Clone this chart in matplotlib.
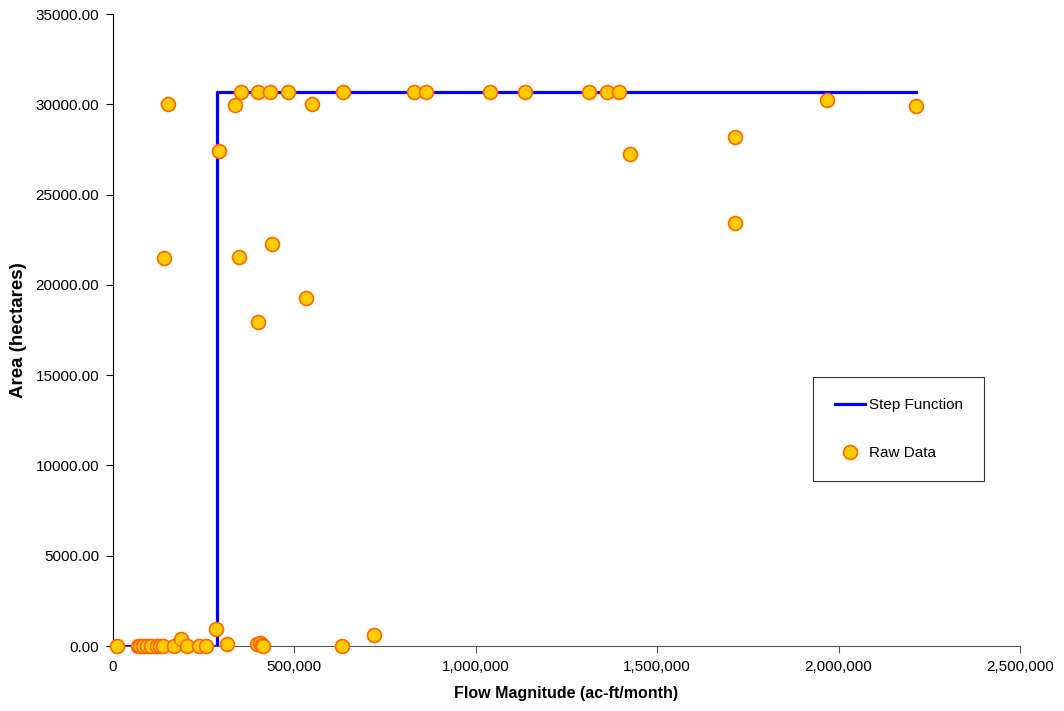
import matplotlib
matplotlib.use("Agg")
import matplotlib.pyplot as plt
from matplotlib.ticker import FuncFormatter, MultipleLocator

plt.rcParams['font.family'] = ['Liberation Sans', 'DejaVu Sans']

# Step function
step_x = [10000, 286000, 286000, 2213000]
step_y = [0, 0, 30660, 30660]

# Raw data (flow ac-ft/month, area hectares)
raw_x = [10000, 70000, 74000, 83000, 93000, 106000, 120000, 129000, 138000,
         169000, 187000, 203000, 238000, 256000, 283500, 314500,
         398000, 405000, 410000, 414000, 632000, 720000,
         140000, 152000, 291000, 336000, 347700, 352000, 399000, 399000,
         432000, 437000, 482000, 533000, 548700, 633000, 831000, 862000,
         1038000, 1137000, 1313000, 1363000, 1396000, 1426000,
         1715000, 1715000, 1968000, 2213000]
raw_y = [0, 0, 0, 0, 0, 0, 0, 0, 0,
         0, 370, 0, 0, 0, 960, 100,
         130, 180, 80, 0, 0, 620,
         21500, 30000, 27410, 29940, 21560, 30660, 30660, 17930,
         30660, 22260, 30660, 19270, 30000, 30660, 30660, 30660,
         30660, 30660, 30660, 30660, 30660, 27250,
         28200, 23400, 30250, 29900]

fig = plt.figure(figsize=(10.64, 7.11), dpi=100)
ax = fig.add_axes([0.1062, 0.0914, 0.8524, 0.8889])

ax.plot(step_x, step_y, color='#0000FF', lw=2.3, label='Step Function', zorder=2)
ax.plot(raw_x, raw_y, linestyle='none', marker='o', markersize=10,
        markerfacecolor='#FFCC00', markeredgecolor='#FF6600', markeredgewidth=1.2,
        label='Raw Data', zorder=3, clip_on=False)

ax.set_xlim(0, 2500000)
ax.set_ylim(0, 35000)
ax.xaxis.set_major_locator(MultipleLocator(500000))
ax.yaxis.set_major_locator(MultipleLocator(5000))
ax.xaxis.set_major_formatter(FuncFormatter(lambda v, p: f"{int(v):,}"))
ax.yaxis.set_major_formatter(FuncFormatter(lambda v, p: f"{v:.2f}"))

for s in ['top', 'right']:
    ax.spines[s].set_visible(False)
ax.spines['left'].set_color('black')
ax.spines['bottom'].set_color('#555555')
ax.tick_params(axis='both', labelsize=11, length=5, direction='out', pad=5)
ax.tick_params(axis='x', color='#555555')

ax.set_xlabel('Flow Magnitude (ac-ft/month)', fontsize=11.5, fontweight='bold', labelpad=9)
ax.set_ylabel('Area (hectares)', fontsize=13.5, fontweight='bold', labelpad=6)

leg = ax.legend(loc='upper left', bbox_to_anchor=(0.772, 0.4256), frameon=True,
                fancybox=False, edgecolor='black', fontsize=11,
                labelspacing=2.2, handlelength=2.0, handletextpad=0.25,
                borderpad=1.4, borderaxespad=0)
leg.get_frame().set_linewidth(0.8)

fig.savefig('out.png', dpi=100)
